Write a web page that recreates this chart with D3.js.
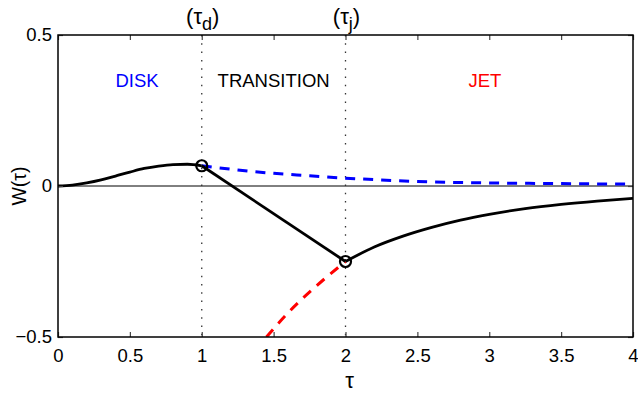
<!DOCTYPE html>
<html>
<head>
<meta charset="utf-8">
<script src="https://cdn.jsdelivr.net/npm/d3@7"></script>
<style>
  body { margin: 0; background: #fff; }
  text { font-family: "Liberation Sans", Arial, sans-serif; }
</style>
</head>
<body>
<div id="chart"></div>
<script>
// tau values and W(tau)
const diskTau = [0, 0.1, 0.2, 0.3, 0.4, 0.5, 0.6, 0.7, 0.8, 0.9, 1.0];
const diskW   = [0, 0.003, 0.010, 0.020, 0.033, 0.046, 0.058, 0.066, 0.071, 0.072, 0.067];
const diskTailTau = [1.0, 1.25, 1.5, 1.75, 2.0, 2.25, 2.5, 3.0, 3.5, 4.0];
const diskTailW   = [0.067, 0.053, 0.042, 0.034, 0.026, 0.020, 0.015, 0.010, 0.008, 0.006];
const jetHeadTau = [1.45, 1.6, 1.8, 2.0];
const jetHeadW   = [-0.50, -0.42, -0.33, -0.25];
const jetTau = [2.0, 2.2, 2.4, 2.6, 2.8, 3.0, 3.25, 3.5, 3.75, 4.0];
const jetW   = [-0.25, -0.202, -0.166, -0.137, -0.113, -0.094, -0.075, -0.061, -0.050, -0.041];
const marks = [[1.0, 0.067], [2.0, -0.25]];
const xTicks = [0, 0.5, 1, 1.5, 2, 2.5, 3, 3.5, 4];
const yTicks = [-0.5, 0, 0.5];
const regions = [
  {name: 'DISK', tau: 0.55, color: '#0000ff'},
  {name: 'TRANSITION', tau: 1.5, color: '#000000'},
  {name: 'JET', tau: 2.97, color: '#ff0000'}
];

const width = 638, height = 394;
const margin = {left: 58, right: 5, top: 35, bottom: 57};
const w = width - margin.left - margin.right;
const h = height - margin.top - margin.bottom;

const x = d3.scaleLinear().domain([0, 4]).range([0, w]);
const y = d3.scaleLinear().domain([-0.5, 0.5]).range([h, 0]);

const svg = d3.select('#chart').append('svg')
  .attr('width', width).attr('height', height);

svg.append('defs').append('clipPath').attr('id', 'clip')
  .append('rect').attr('width', w).attr('height', h);

const g = svg.append('g')
  .attr('transform', `translate(${margin.left},${margin.top})`);

const zip = (a, b) => a.map((t, i) => [t, b[i]]);
const line = d3.line().x(d => x(d[0])).y(d => y(d[1])).curve(d3.curveMonotoneX);

const plot = g.append('g').attr('clip-path', 'url(#clip)');

// zero line
plot.append('line')
  .attr('x1', 0).attr('x2', w).attr('y1', y(0)).attr('y2', y(0))
  .attr('stroke', '#000').attr('stroke-width', 1);

// dotted markers at tau_d and tau_j
[1, 2].forEach(t => {
  plot.append('line')
    .attr('x1', x(t)).attr('x2', x(t)).attr('y1', 0).attr('y2', h)
    .attr('stroke', '#333').attr('stroke-width', 1.3)
    .attr('stroke-dasharray', '1.5,6.8');
});

// dashed continuations
plot.append('path').datum(zip(diskTailTau, diskTailW))
  .attr('d', line).attr('fill', 'none')
  .attr('stroke', '#0000ff').attr('stroke-width', 3)
  .attr('stroke-dasharray', '10,8');
plot.append('path').datum(zip(jetHeadTau, jetHeadW))
  .attr('d', line).attr('fill', 'none')
  .attr('stroke', '#ff0000').attr('stroke-width', 3)
  .attr('stroke-dasharray', '10,8');

// solid W(tau)
plot.append('path').datum(zip(diskTau, diskW))
  .attr('d', line).attr('fill', 'none')
  .attr('stroke', '#000').attr('stroke-width', 2.8);
plot.append('path').datum(marks)
  .attr('d', d3.line().x(d => x(d[0])).y(d => y(d[1])))
  .attr('fill', 'none').attr('stroke', '#000').attr('stroke-width', 2.8);
plot.append('path').datum(zip(jetTau, jetW))
  .attr('d', line).attr('fill', 'none')
  .attr('stroke', '#000').attr('stroke-width', 2.8);

g.selectAll('.mark').data(marks).enter().append('circle')
  .attr('class', 'mark')
  .attr('cx', d => x(d[0])).attr('cy', d => y(d[1])).attr('r', 5.5)
  .attr('fill', 'none').attr('stroke', '#000').attr('stroke-width', 2.2);

// region labels
g.selectAll('.region').data(regions).enter().append('text')
  .attr('class', 'region')
  .attr('x', d => x(d.tau)).attr('y', 52)
  .attr('text-anchor', 'middle')
  .attr('font-size', 18.5)
  .attr('fill', d => d.color)
  .text(d => d.name);

// axes (box, ticks inward)
const tickLen = 5;
g.append('g').attr('transform', `translate(0,${h})`)
  .call(d3.axisBottom(x).tickValues(xTicks).tickSize(-tickLen).tickPadding(12)
    .tickFormat(d3.format('')))
  .call(a => a.select('.domain').remove());
g.append('g')
  .call(d3.axisTop(x).tickValues(xTicks).tickSize(-tickLen).tickFormat(''))
  .call(a => a.select('.domain').remove());
g.append('g')
  .call(d3.axisLeft(y).tickValues(yTicks).tickSize(-tickLen).tickPadding(6)
    .tickFormat(d => d === 0 ? '0' : d3.format('.1f')(d).replace('-', '\u2212')))
  .call(a => a.select('.domain').remove());
g.append('g').attr('transform', `translate(${w},0)`)
  .call(d3.axisRight(y).tickValues(yTicks).tickSize(-tickLen).tickFormat(''))
  .call(a => a.select('.domain').remove());

g.selectAll('.tick text').attr('font-size', 18.5).attr('fill', '#000')
  .attr('font-family', '"Liberation Sans", Arial, sans-serif');
g.selectAll('.tick line').attr('stroke', '#444').attr('stroke-width', 1.2);

g.append('rect').attr('width', w).attr('height', h)
  .attr('fill', 'none').attr('stroke', '#000').attr('stroke-width', 1.5);

// axis titles
svg.append('text')
  .attr('x', margin.left + x(2) + 4).attr('y', 388)
  .attr('text-anchor', 'middle').attr('font-size', 22)
  .attr('font-family', '"DejaVu Serif", serif')
  .text('\u03c4');
svg.append('text')
  .attr('transform', `translate(26,${margin.top + y(0)}) rotate(-90)`)
  .attr('text-anchor', 'middle').attr('font-size', 19.5)
  .text('W(\u03c4)');

// (tau_d), (tau_j) labels above the dotted lines
[{t: 1, sub: 'd'}, {t: 2, sub: 'j'}].forEach(m => {
  const txt = svg.append('text')
    .attr('x', margin.left + x(m.t) + 1).attr('y', 24)
    .attr('text-anchor', 'middle').attr('font-size', 22);
  txt.append('tspan').text('(\u03c4');
  txt.append('tspan').attr('dy', 6).attr('font-size', 18).text(m.sub);
  txt.append('tspan').attr('dy', -6).text(')');
});
</script>
</body>
</html>
